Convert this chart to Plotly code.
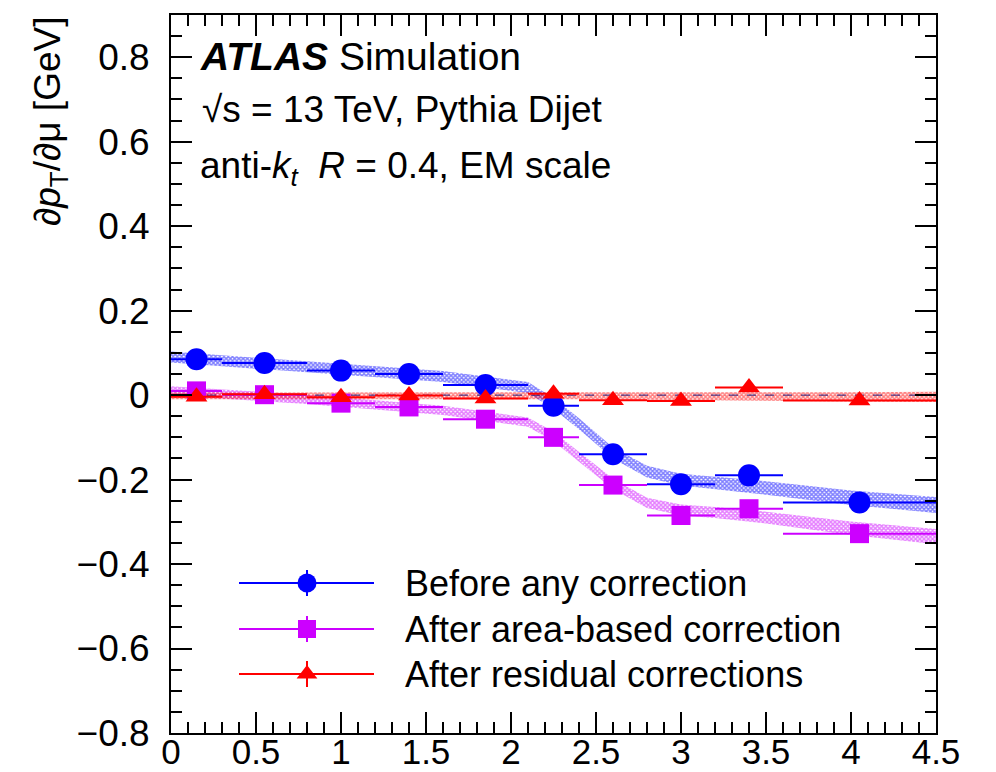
import plotly.graph_objects as go

# ---------------- data ----------------
eta_lo = [0.0, 0.3, 0.8, 1.2, 1.6, 2.1, 2.4, 2.8, 3.2, 3.6]
eta_hi = [0.3, 0.8, 1.2, 1.6, 2.1, 2.4, 2.8, 3.2, 3.6, 4.5]

before_vals = [0.085, 0.076, 0.058, 0.050, 0.024, -0.025, -0.140, -0.211, -0.190, -0.254]
area_vals = [0.010, 0.001, -0.019, -0.028, -0.057, -0.100, -0.213, -0.285, -0.269, -0.328]
resid_vals = [-0.004, 0.002, -0.005, -0.001, -0.008, 0.003, -0.012, -0.014, 0.018, -0.013]

band_eta = [0.0, 0.8, 1.6, 2.1, 2.25, 2.4, 2.6, 2.8, 3.0, 3.2, 3.5, 4.0, 4.5]
before_band_mid = [0.090, 0.067, 0.044, 0.018, -0.020, -0.068, -0.137, -0.181, -0.200, -0.208, -0.220, -0.243, -0.260]
before_band_half = [0.013, 0.013, 0.013, 0.013, 0.013, 0.013, 0.013, 0.014, 0.014, 0.015, 0.016, 0.017, 0.019]
area_band_mid = [0.010, -0.010, -0.036, -0.064, -0.098, -0.146, -0.210, -0.255, -0.272, -0.278, -0.290, -0.315, -0.335]
area_band_half = [0.011, 0.011, 0.011, 0.011, 0.011, 0.011, 0.012, 0.012, 0.013, 0.013, 0.014, 0.016, 0.018]
resid_band_mid = [-0.002, -0.002, -0.002, -0.002, -0.002, -0.002, -0.002, -0.002, -0.003, -0.003, -0.003, -0.004, -0.004]
resid_band_half = [0.008, 0.008, 0.008, 0.008, 0.008, 0.008, 0.008, 0.009, 0.009, 0.010, 0.010, 0.011, 0.012]

legend_labels = ["Before any correction", "After area-based correction", "After residual corrections"]
x_ticks = [0, 0.5, 1, 1.5, 2, 2.5, 3, 3.5, 4, 4.5]
x_tick_text = ["0", "0.5", "1", "1.5", "2", "2.5", "3", "3.5", "4", "4.5"]
y_ticks = [-0.8, -0.6, -0.4, -0.2, 0, 0.2, 0.4, 0.6, 0.8]
y_tick_text = ["−0.8", "−0.6", "−0.4", "−0.2", "0", "0.2", "0.4", "0.6", "0.8"]

# ---------------- style ----------------
BLUE = "#0000ff"
MAG = "#cc00ff"
RED = "#ff0000"
FONT = "Liberation Sans, Arial, Helvetica, sans-serif"
FS = 35

W, H = 996, 772
L, R, T, B = 171, 60, 15, 39

x_mid = [(a + b) / 2 for a, b in zip(eta_lo, eta_hi)]
x_half = [(b - a) / 2 for a, b in zip(eta_lo, eta_hi)]

fig = go.Figure()


def band(mid, half, color):
    up = [m + h for m, h in zip(mid, half)]
    dn = [m - h for m, h in zip(mid, half)]
    fig.add_trace(go.Scatter(
        x=band_eta + band_eta[::-1], y=up + dn[::-1],
        mode="lines", fill="toself", line=dict(width=0, color=color),
        fillcolor="rgba(255,255,255,0)",
        fillpattern=dict(shape="x", size=3, solidity=0.75, fgcolor=color,
                         bgcolor="rgba(255,255,255,0)"),
        showlegend=False, hoverinfo="skip"))


band(before_band_mid, before_band_half, BLUE)
band(area_band_mid, area_band_half, MAG)
band(resid_band_mid, resid_band_half, RED)

# zero reference dashed line
fig.add_trace(go.Scatter(x=[0, 4.5], y=[0, 0], mode="lines",
                         line=dict(color="#202080", width=1, dash="dash"),
                         showlegend=False, hoverinfo="skip"))


def points(vals, color, symbol, size):
    fig.add_trace(go.Scatter(
        x=x_mid, y=vals, mode="markers",
        marker=dict(symbol=symbol, size=size, color=color, line=dict(width=0)),
        error_x=dict(type="data", array=x_half, color=color, thickness=2, width=0),
        showlegend=False))


points(before_vals, BLUE, "circle", 22)
points(area_vals, MAG, "square", 19)
points(resid_vals, RED, "triangle-up", 19)

# ---------------- hand-drawn legend on a pixel-space overlay axis ----------------
leg_rows = [583, 629, 674]
leg_styles = [(BLUE, "circle", 19), (MAG, "square", 18), (RED, "triangle-up", 18)]
for lab, yrow, (col, sym, sz) in zip(legend_labels, leg_rows, leg_styles):
    fig.add_trace(go.Scatter(x=[239, 374], y=[yrow, yrow], mode="lines",
                             line=dict(color=col, width=2), xaxis="x2", yaxis="y2",
                             showlegend=False, hoverinfo="skip"))
    fig.add_trace(go.Scatter(x=[307], y=[yrow], mode="markers",
                             marker=dict(symbol=sym, size=sz, color=col),
                             error_y=dict(type="data", array=[13], color=col, thickness=2, width=0),
                             xaxis="x2", yaxis="y2", showlegend=False, hoverinfo="skip"))
    fig.add_annotation(x=403, y=yrow, xref="x2", yref="y2", text=lab, showarrow=False,
                       xanchor="left", yanchor="middle",
                       font=dict(family=FONT, size=36, color="black"))

# ---------------- texts ----------------
def px_x(p):
    return (p - L) / (W - L - R)


def px_y(p):
    return (H - B - p) / (H - B - T)


fig.add_annotation(x=px_x(198), y=px_y(56), xref="paper", yref="paper",
                   text="<b><i>ATLAS</i></b> Simulation", showarrow=False,
                   xanchor="left", yanchor="middle",
                   font=dict(family=FONT, size=39, color="black"))
fig.add_annotation(x=px_x(200), y=px_y(109), xref="paper", yref="paper",
                   text="√s = 13 TeV, Pythia Dijet", showarrow=False,
                   xanchor="left", yanchor="middle",
                   font=dict(family=FONT, size=37, color="black"))
fig.add_annotation(x=px_x(198), y=px_y(168), xref="paper", yref="paper",
                   text="anti-<i>k</i><sub><i>t</i></sub>  <i>R</i> = 0.4, EM scale", showarrow=False,
                   xanchor="left", yanchor="middle",
                   font=dict(family=FONT, size=37, color="black"))
fig.add_annotation(x=px_x(50), y=px_y(122), xref="paper", yref="paper",
                   text="∂<i>p</i><sub>T</sub>/∂μ [GeV]", showarrow=False, textangle=-90,
                   xanchor="center", yanchor="middle",
                   font=dict(family=FONT, size=37, color="black"))

axis_common = dict(showline=True, linecolor="black", linewidth=2, mirror="allticks",
                   ticks="inside", tickcolor="black", tickwidth=1.5, ticklen=21,
                   showgrid=False, zeroline=False)

fig.update_layout(
    width=W, height=H,
    margin=dict(l=L, r=R, t=T, b=B, autoexpand=False),
    paper_bgcolor="white", plot_bgcolor="white",
    showlegend=False,
    xaxis=dict(range=[0, 4.5], tickvals=x_ticks, ticktext=x_tick_text,
               minor=dict(dtick=0.1, tick0=0, ticks="inside", ticklen=11, tickwidth=1.5,
                          tickcolor="black"),
               ticklabelstandoff=-13,
               tickfont=dict(family=FONT, size=FS, color="black"),
               **axis_common),
    yaxis=dict(range=[-0.8, 0.9], tickvals=y_ticks, ticktext=y_tick_text,
               minor=dict(dtick=0.05, tick0=0, ticks="inside", ticklen=11, tickwidth=1.5,
                          tickcolor="black"),
               ticklabelstandoff=12,
               tickfont=dict(family=FONT, size=37, color="black"),
               **axis_common),
    xaxis2=dict(overlaying="x", anchor="y2", range=[L, W - R], visible=False, fixedrange=True),
    yaxis2=dict(overlaying="y", anchor="x2", range=[H - B, T], visible=False, fixedrange=True),
)

fig.write_html("out.html")
